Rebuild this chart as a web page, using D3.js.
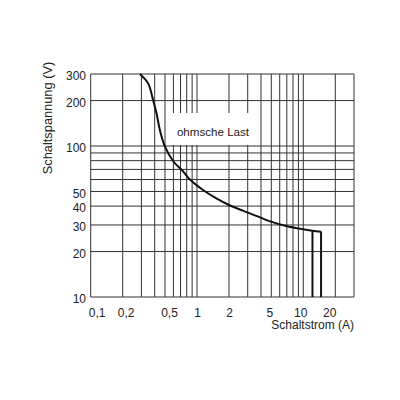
<!DOCTYPE html>
<html>
<head>
<meta charset="utf-8">
<script src="https://cdn.jsdelivr.net/npm/d3@7"></script>
<style>
  body { margin: 0; background: #fff; }
  svg { display: block; }
</style>
</head>
<body>
<div id="chart"></div>
<script>
'use strict';

// Schaltstrom (A) / Schaltspannung (V), ohmsche Last
var curveI = [0.29, 0.347, 0.386, 0.416, 0.447, 0.50, 0.60, 0.74, 0.854, 1.14, 1.52, 2.0, 2.7, 3.61, 4.8, 6.9, 9.9, 12.2, 14.7];
var curveU = [300, 260, 202, 165, 128, 99, 79, 68, 60.2, 51.1, 45, 40.7, 37.3, 34.5, 31.8, 29.5, 28.1, 27.5, 27.1];
var dropI = [12.2, 14.7];

var xTicks = [0.1, 0.2, 0.5, 1, 2, 5, 10, 20];
var yTicks = [10, 20, 30, 40, 50, 100, 200, 300];
var xGrid = [0.1, 0.2, 0.3, 0.4, 0.5, 0.6, 0.7, 0.8, 0.9, 1, 2, 3, 4, 5, 6, 7, 8, 9, 10, 20, 30];
var yGrid = [10, 20, 30, 40, 50, 60, 70, 80, 90, 100, 200, 300];

var chart = {};
chart.left = 90.7;
chart.right = 354;
chart.top = 74;
chart.bottom = 297;
chart.font = '"Liberation Sans", Arial, sans-serif';

var svg = d3.select('#chart').append('svg')
    .attr('width', 400)
    .attr('height', 400);

var x = d3.scaleLog().domain([0.1, 30]).range([chart.left, chart.right]);
var y = d3.scaleLog().domain([10, 300]).range([chart.bottom, chart.top]);

// grid
var grid = svg.append('g')
    .attr('stroke', '#333')
    .attr('stroke-width', 1);

grid.selectAll('.vline')
    .data(xGrid)
    .enter()
    .append('line')
    .attr('x1', function(d){ return x(d); })
    .attr('x2', function(d){ return x(d); })
    .attr('y1', y(300))
    .attr('y2', y(10));

grid.selectAll('.hline')
    .data(yGrid)
    .enter()
    .append('line')
    .attr('x1', x(0.1))
    .attr('x2', x(30))
    .attr('y1', function(d){ return y(d); })
    .attr('y2', function(d){ return y(d); });

// label box
svg.append('rect')
    .attr('x', 168)
    .attr('y', 113)
    .attr('width', 82)
    .attr('height', 32)
    .attr('fill', '#fff');

svg.append('text')
    .attr('x', 213)
    .attr('y', 135.5)
    .attr('text-anchor', 'middle')
    .attr('font-family', chart.font)
    .attr('font-size', '11.6px')
    .attr('fill', '#222')
    .text('ohmsche Last');

// curve
var pts = curveI.map(function(d, i){ return [d, curveU[i]]; });
var line = d3.line()
    .x(function(d){ return x(d[0]); })
    .y(function(d){ return y(d[1]); })
    .curve(d3.curveCatmullRom.alpha(0.5));

svg.append('path')
    .datum(pts)
    .attr('d', line)
    .attr('fill', 'none')
    .attr('stroke', '#111')
    .attr('stroke-width', 2);

svg.selectAll('.drop')
    .data(dropI)
    .enter()
    .append('line')
    .attr('x1', function(d){ return x(d); })
    .attr('x2', function(d){ return x(d); })
    .attr('y1', function(d){ return y(curveU[curveI.indexOf(d)]); })
    .attr('y2', y(10))
    .attr('stroke', '#111')
    .attr('stroke-width', 2);

// axes (labels only)
var nudge = {0.1: 6, 0.2: 3, 0.5: 4, 5: -2, 10: -3, 20: -6};

var xAxis = d3.axisBottom(x)
    .tickValues(xTicks)
    .tickSize(0)
    .tickPadding(11)
    .tickFormat(function(d){ return String(d).replace('.', ','); });

var xg = svg.append('g')
    .attr('transform', 'translate(0,' + chart.bottom + ')')
    .call(xAxis);
xg.select('.domain').remove();
xg.selectAll('text')
    .attr('font-family', chart.font)
    .attr('font-size', '12px')
    .attr('fill', '#222')
    .attr('dx', function(d){ return nudge[d] || 0; });

var yAxis = d3.axisLeft(y)
    .tickValues(yTicks)
    .tickSize(0)
    .tickPadding(4.7)
    .tickFormat(function(d){ return d; });

var yg = svg.append('g')
    .attr('transform', 'translate(' + chart.left + ',0)')
    .call(yAxis);
yg.select('.domain').remove();
yg.selectAll('text')
    .attr('font-family', chart.font)
    .attr('font-size', '12px')
    .attr('fill', '#222')
    .attr('dy', '0.48em');

// titles
svg.append('text')
    .attr('x', chart.right)
    .attr('y', 329)
    .attr('text-anchor', 'end')
    .attr('font-family', chart.font)
    .attr('font-size', '12px')
    .attr('fill', '#222')
    .text('Schaltstrom (A)');

svg.append('text')
    .attr('transform', 'translate(52,118) rotate(-90)')
    .attr('text-anchor', 'middle')
    .attr('font-family', chart.font)
    .attr('font-size', '12.8px')
    .attr('fill', '#222')
    .text('Schaltspannung (V)');
</script>
</body>
</html>
